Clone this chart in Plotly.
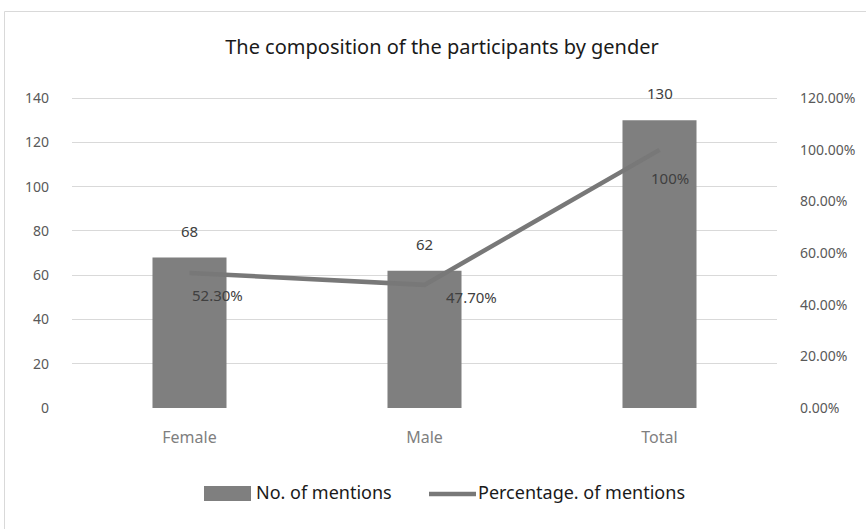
import plotly.graph_objects as go

categories = ["Female", "Male", "Total"]
mentions = [68, 62, 130]
percentages = [0.523, 0.477, 1.0]
pct_labels = ["52.30%", "47.70%", "100%"]
left_ticks = [0, 20, 40, 60, 80, 100, 120, 140]
right_ticks = [0, 0.2, 0.4, 0.6, 0.8, 1.0, 1.2]
right_tick_labels = ["0.00%", "20.00%", "40.00%", "60.00%", "80.00%", "100.00%", "120.00%"]

FONT = "Noto Sans"
BAR_C = "#7f7f7f"
LINE_C = "#787878"
FIG_W, FIG_H = 866, 529

# plot-area pixel geometry
L, R, T, B = 72, 777, 96, 408
W, H = R - L, B - T
YMAX = 141
def px(x):
    return (x - L) / W
def py(y):
    return (B - y) / H

fig = go.Figure()
fig.add_trace(go.Bar(x=categories, y=mentions, name="No. of mentions",
                     marker=dict(color=BAR_C, line=dict(width=0)), width=0.315,
                     yaxis="y", showlegend=False))
fig.add_trace(go.Scatter(x=categories, y=percentages, name="Percentage. of mentions",
                         mode="lines", line=dict(color=LINE_C, width=4.5),
                         yaxis="y2", showlegend=False))

annotations = []
for c, v in zip(categories, mentions):
    annotations.append(dict(x=c, y=v, xref="x", yref="y", text=str(v), showarrow=False,
                            yshift=27, font=dict(family=FONT, size=15, color="#404040")))
shifts = [(28, -22), (47, -12), (10, -28)]
for c, v, t, (dx, dy) in zip(categories, percentages, pct_labels, shifts):
    annotations.append(dict(x=c, y=v, xref="x", yref="y2", text=t, showarrow=False,
                            xshift=dx, yshift=dy, font=dict(family=FONT, size=15, color="#404040")))

# custom legend
annotations.append(dict(x=px(254), y=py(492), xref="paper", yref="paper", xanchor="left",
                        yanchor="middle", text="No. of mentions", showarrow=False,
                        font=dict(family=FONT, size=18, color="#1a1a1a")))
annotations.append(dict(x=px(476), y=py(492), xref="paper", yref="paper", xanchor="left",
                        yanchor="middle", text="Percentage. of mentions", showarrow=False,
                        font=dict(family=FONT, size=18, color="#1a1a1a")))

shapes = [
    dict(type="rect", xref="paper", yref="paper", x0=px(204), x1=px(251), y0=py(501), y1=py(486),
         fillcolor=BAR_C, line=dict(width=0)),
    dict(type="line", xref="paper", yref="paper", x0=px(429), x1=px(476), y0=py(494), y1=py(494),
         line=dict(color=LINE_C, width=4.5)),
    dict(type="rect", xref="paper", yref="paper", x0=px(4.5), x1=px(900), y0=py(560), y1=py(11.5),
         line=dict(color="#d9d9d9", width=1), fillcolor="rgba(0,0,0,0)", layer="below"),
]

fig.update_layout(
    width=FIG_W, height=FIG_H,
    margin=dict(l=L, r=FIG_W - R, t=T, b=FIG_H - B),
    paper_bgcolor="white", plot_bgcolor="white",
    font=dict(family=FONT, size=14, color="#595959"),
    title=dict(text="The composition of the participants by gender", x=442 / FIG_W, xanchor="center",
               y=1 - 47 / FIG_H, yanchor="middle", font=dict(family=FONT, size=20, color="#1a1a1a")),
    xaxis=dict(showgrid=False, showline=False, ticks="", tickfont=dict(color="#7f7f7f", size=16),
               ticklabelstandoff=18),
    yaxis=dict(range=[0, YMAX], tickvals=left_ticks, showgrid=True, gridcolor="#d9d9d9",
               gridwidth=1, zeroline=False, showline=False, ticks="", ticklabelstandoff=22,
               tickfont=dict(color="#595959", size=14)),
    yaxis2=dict(range=[0, 1.2 * YMAX / 140], tickvals=right_ticks, ticktext=right_tick_labels,
                overlaying="y", side="right", showgrid=False, zeroline=False, showline=False,
                ticks="", ticklabelstandoff=22, tickfont=dict(color="#595959", size=14)),
    bargap=0.685,
    showlegend=False,
    annotations=annotations,
    shapes=shapes,
)

fig.write_html("out.html", config={"displayModeBar": False},
               post_script="document.body.style.margin='0';")
